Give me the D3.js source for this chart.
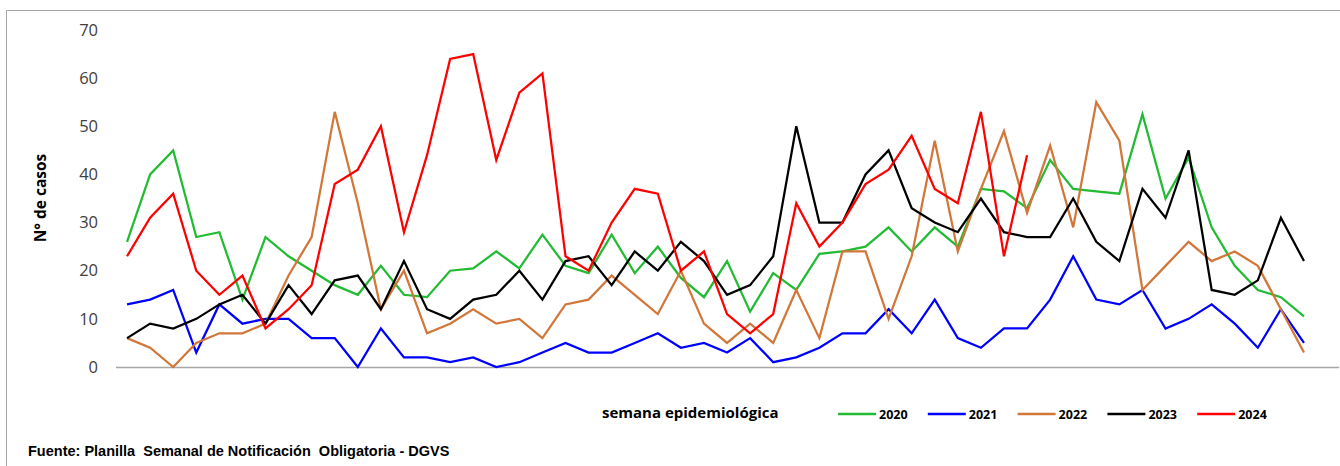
<!DOCTYPE html>
<html>
<head>
<meta charset="utf-8">
<script src="https://cdn.jsdelivr.net/npm/d3@7"></script>
<style>
  html, body { margin: 0; padding: 0; background: #fff; }
  svg { display: block; }
</style>
</head>
<body>
<svg id="chart" width="1340" height="466"></svg>
<script>
// ---- data ----
const weeks = d3.range(1, 54); // 53 weekly categories
const yTicks = [0, 10, 20, 30, 40, 50, 60, 70];
const seriesNames = ["2020", "2021", "2022", "2023", "2024"];
const seriesColors = ["#22BB33", "#0000FF", "#D2773A", "#000000", "#FF0000"];

const v2020 = [26,40,45,27,28,14,27,23,20,17,15,21,15,14.5,20,20.5,24,20.5,27.5,21,19.5,27.5,19.5,25,18.5,14.5,22,11.5,19.5,16,23.5,24,25,29,24,29,25,37,36.5,33,43,37,36.5,36,52.5,35,43.5,29,21,16,14.5,10.5];
const v2021 = [13,14,16,3,13,9,10,10,6,6,0,8,2,2,1,2,0,1,3,5,3,3,5,7,4,5,3,6,1,2,4,7,7,12,7,14,6,4,8,8,14,23,14,13,16,8,10,13,9,4,12,5];
const v2022 = [6,4,0,5,7,7,9,19,27,53,34,12,20,7,9,12,9,10,6,13,14,19,15,11,20,9,5,9,5,16,6,24,24,10,23,47,24,37,49,32,46,29,55,47,16,21,26,22,24,21,12,3];
const v2023 = [6,9,8,10,13,15,9,17,11,18,19,12,22,12,10,14,15,20,14,22,23,17,24,20,26,22,15,17,23,50,30,30,40,45,33,30,28,35,28,27,27,35,26,22,37,31,45,16,15,18,31,22];
const v2024 = [23,31,36,20,15,19,8,12,17,38,41,50,28,44,64,65,43,57,61,23,20,30,37,36,20,24,11,7,11,34,25,30,38,41,48,37,34,53,23,44];

const seriesValues = [v2020, v2021, v2022, v2023, v2024];

// ---- layout ----
const svg = d3.select("#chart");
const x = d3.scaleBand().domain(weeks).range([115.5, 1338.6]).padding(0);
const y = d3.scaleLinear().domain([0, 70]).range([367, 30]);
const cx = w => x(w) + x.bandwidth() / 2;

// outer frame (left and top border)
svg.append("path")
  .attr("d", "M6.5,466 V10.5 H1340")
  .attr("fill", "none")
  .attr("stroke", "#A6A6A6")
  .attr("stroke-width", 1);

// y axis labels
const yAxis = d3.axisLeft(y).tickValues(yTicks).tickSize(0).tickPadding(17);
const gy = svg.append("g").attr("transform", "translate(115,0)").call(yAxis);
gy.select(".domain").remove();
gy.selectAll("text")
  .attr("font-family", "'Open Sans', sans-serif")
  .attr("font-size", 16.5)
  .attr("fill", "#404040");

// x axis baseline
const xAxis = d3.axisBottom(x).tickSize(0).tickFormat("");
const gx = svg.append("g").attr("transform", "translate(0,367)").call(xAxis);
gx.select(".domain").attr("stroke", "#A6A6A6").attr("stroke-width", 1.3);

// y axis title
svg.append("text")
  .attr("transform", "translate(46,198) rotate(-90)")
  .attr("text-anchor", "middle")
  .attr("font-family", "'Open Sans', sans-serif")
  .attr("font-weight", "bold")
  .attr("font-size", 15.5)
  .attr("fill", "#000")
  .text("N° de casos");

// lines
const line = d3.line()
  .x((d, i) => cx(weeks[i]))
  .y(d => y(d));

seriesValues.forEach((vals, k) => {
  svg.append("path")
    .datum(vals)
    .attr("fill", "none")
    .attr("stroke", seriesColors[k])
    .attr("stroke-width", 2.25)
    .attr("stroke-linejoin", "miter")
    .attr("d", line);
});

// x axis title
svg.append("text")
  .attr("x", 602)
  .attr("y", 418)
  .attr("font-family", "'Open Sans', sans-serif")
  .attr("font-weight", "bold")
  .attr("font-size", 15)
  .attr("fill", "#000")
  .text("semana epidemiológica");

// legend
const leg = svg.append("g");
seriesNames.forEach((name, k) => {
  const x0 = 838 + k * 89.8;
  leg.append("line")
    .attr("x1", x0).attr("x2", x0 + 38)
    .attr("y1", 414).attr("y2", 414)
    .attr("stroke", seriesColors[k])
    .attr("stroke-width", 2.5);
  leg.append("text")
    .attr("x", x0 + 41)
    .attr("y", 418.5)
    .attr("font-family", "'Open Sans', sans-serif")
    .attr("font-weight", "bold")
    .attr("font-size", 12.5)
    .attr("fill", "#000")
    .text(name);
});

// source note
svg.append("text")
  .attr("x", 28)
  .attr("y", 455.5)
  .attr("font-family", "'Liberation Sans', Arial, sans-serif")
  .attr("font-weight", "bold")
  .attr("font-size", 14.5)
  .attr("fill", "#000")
  .style("white-space", "pre")
  .text("Fuente: Planilla  Semanal de Notificación  Obligatoria - DGVS");
</script>
</body>
</html>
